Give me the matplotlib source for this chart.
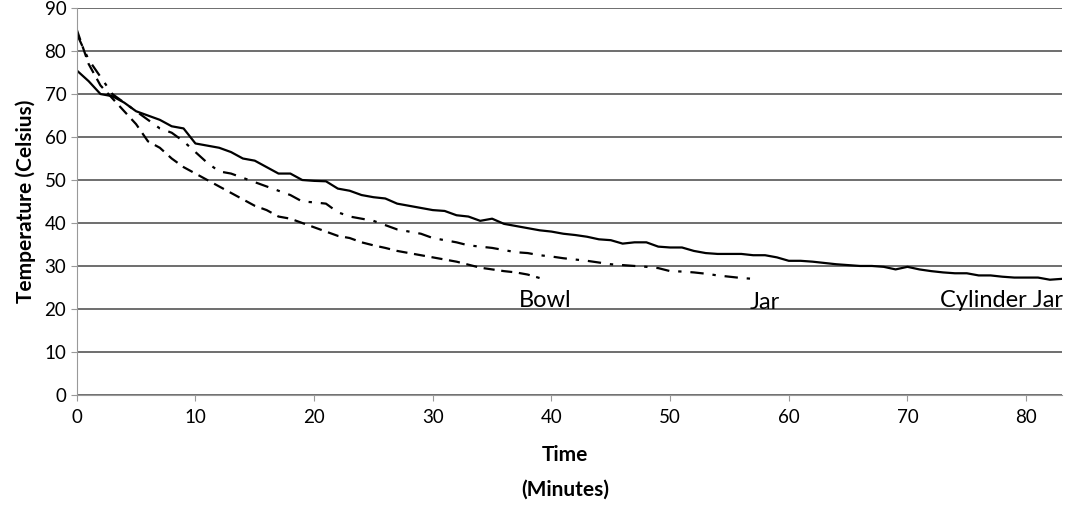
import matplotlib
matplotlib.use('Agg')
import matplotlib.pyplot as plt

# cylinder jar, one reading per minute
cyl_time = list(range(0, 84))
cyl_temp = [75.5, 73, 70, 69.5, 68, 66, 65, 64, 62.5, 62,
            58.5, 58, 57.5, 56.5, 55, 54.5, 53, 51.5, 51.5, 50,
            49.8, 49.7, 48, 47.5, 46.5, 46, 45.7, 44.5, 44, 43.5,
            43, 42.8, 41.8, 41.5, 40.5, 41, 39.8, 39.3, 38.8, 38.3,
            38, 37.5, 37.2, 36.8, 36.2, 36, 35.2, 35.5, 35.5, 34.5,
            34.3, 34.3, 33.5, 33, 32.8, 32.8, 32.8, 32.5, 32.5, 32,
            31.2, 31.2, 31, 30.7, 30.4, 30.2, 30, 30, 29.8, 29.2,
            29.8, 29.2, 28.8, 28.5, 28.3, 28.3, 27.8, 27.8, 27.5, 27.3,
            27.3, 27.3, 26.8, 27]

jar_time = list(range(0, 58))
jar_temp = [84, 78, 74, 70, 68, 66, 64, 62, 61, 59,
            56.5, 54, 52, 51.5, 50.5, 49.5, 48.5, 47.5, 46.5, 45,
            44.8, 44.5, 42.5, 41.5, 41, 40.5, 39.5, 38.5, 38, 37.5,
            36.5, 36, 35.5, 34.8, 34.5, 34.2, 33.7, 33.2, 33, 32.5,
            32.2, 31.8, 31.5, 31.2, 30.8, 30.4, 30.2, 30, 29.8, 29.5,
            28.8, 28.7, 28.5, 28.2, 27.8, 27.5, 27.2, 27]

bowl_time = list(range(0, 40))
bowl_temp = [85, 77, 72, 69, 66, 63, 59, 57.5, 55, 53,
             51.5, 50, 48.5, 47, 45.5, 44, 43, 41.5, 41, 40,
             39, 38, 37, 36.5, 35.5, 34.8, 34.2, 33.5, 33, 32.5,
             32, 31.5, 31, 30.3, 29.6, 29.2, 28.8, 28.5, 28, 27.2]

plt.rcParams['font.family'] = ['Lato', 'DejaVu Sans']

fig = plt.figure(figsize=(10.66, 5.05), dpi=100)
ax = fig.add_axes([0.072, 0.218, 0.924, 0.766])

ax.plot(cyl_time, cyl_temp, color='black', lw=1.6, linestyle='-')
ax.plot(jar_time, jar_temp, color='black', lw=1.6, linestyle=(0, (6, 4, 1.5, 4)))
ax.plot(bowl_time, bowl_temp, color='black', lw=1.6, linestyle=(0, (5, 3)))

# curve labels
ax.text(39.5, 22, 'Bowl', ha='center', va='center', fontsize=17)
ax.text(58, 21.5, 'Jar', ha='center', va='center', fontsize=17)
ax.text(77.9, 22, 'Cylinder Jar', ha='center', va='center', fontsize=17)

ax.set_xlim(0, 83)
ax.set_ylim(0, 90)
ax.set_xticks(range(0, 81, 10))
ax.set_yticks(range(0, 91, 10))
ax.yaxis.grid(True, color='#555555', lw=1.2)
ax.set_axisbelow(True)

for side in ['top', 'right']:
    ax.spines[side].set_visible(False)
ax.spines['left'].set_color('#999999')
ax.spines['bottom'].set_color('#999999')
ax.tick_params(axis='both', colors='#999999', labelcolor='black', labelsize=13.5, length=4)
ax.tick_params(axis='x', pad=6)

ax.set_ylabel('Temperature (Celsius)', fontsize=15, fontweight='bold', labelpad=6)
fig.text(565 / 1066, 1 - 455 / 505, 'Time', ha='center', va='center', fontsize=15, fontweight='bold')
fig.text(565 / 1066, 1 - 490 / 505, '(Minutes)', ha='center', va='center', fontsize=15, fontweight='bold')

plt.savefig('out.png', dpi=100)
